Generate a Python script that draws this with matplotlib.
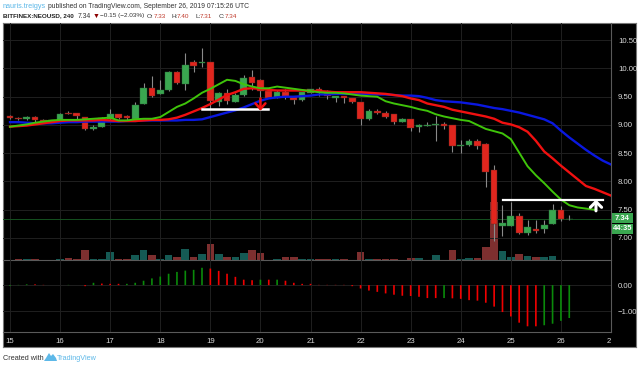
import matplotlib
matplotlib.use('Agg')
import matplotlib.pyplot as plt
from matplotlib.patches import Rectangle, Polygon

W, H = 640, 367

# свечи, 4 часа
opens = [9.16, 9.13, 9.10, 9.15, 9.08, 9.05, 9.08, 9.22, 9.21, 9.14, 8.92, 8.97, 9.11, 9.19, 9.16, 9.10, 9.38,
         9.65, 9.55, 9.62, 9.94, 9.73, 10.11, 10.09, 10.11, 9.41, 9.56, 9.41, 9.53, 9.85, 9.80, 9.61, 9.48, 9.58,
         9.49, 9.44, 9.57, 9.63, 9.61, 9.48, 9.51, 9.47, 9.41, 9.10, 9.24, 9.22, 9.19, 9.06, 9.10, 8.97, 8.99,
         9.00, 9.02, 9.00, 8.62, 8.64, 8.72, 8.67, 8.20, 7.22, 7.22, 7.38, 7.08, 7.16, 7.16, 7.25, 7.50, 7.33]
highs = [9.18, 9.14, 9.16, 9.16, 9.10, 9.09, 9.22, 9.24, 9.22, 9.15, 9.00, 9.15, 9.29, 9.20, 9.18, 9.40, 9.75,
         9.87, 9.80, 9.96, 9.96, 10.27, 10.15, 10.37, 10.12, 9.59, 9.63, 9.56, 9.88, 9.97, 9.81, 9.63, 9.62, 9.64,
         9.50, 9.59, 9.64, 9.67, 9.62, 9.52, 9.52, 9.48, 9.41, 9.28, 9.28, 9.25, 9.20, 9.12, 9.11, 9.02, 9.05,
         9.16, 9.05, 9.00, 8.73, 8.76, 8.75, 8.68, 8.30, 7.58, 7.64, 7.44, 7.32, 7.32, 7.32, 7.61, 7.57, 7.40]
lows = [9.11, 9.09, 9.09, 9.06, 9.03, 9.04, 9.07, 9.20, 9.10, 8.91, 8.91, 8.96, 9.09, 9.10, 9.09, 9.09, 9.37,
        9.50, 9.54, 9.61, 9.72, 9.62, 9.94, 10.02, 9.29, 9.34, 9.37, 9.40, 9.52, 9.62, 9.28, 9.47, 9.47, 9.46,
        9.37, 9.42, 9.56, 9.52, 9.46, 9.40, 9.39, 9.39, 9.00, 9.09, 9.19, 9.13, 9.02, 9.05, 8.90, 8.88, 8.98,
        8.72, 8.93, 8.52, 8.51, 8.63, 8.57, 7.90, 6.95, 7.03, 7.21, 7.07, 7.05, 7.08, 7.09, 7.24, 7.30, 7.31]
closes = [9.12, 9.10, 9.15, 9.08, 9.04, 9.08, 9.19, 9.20, 9.16, 8.92, 8.96, 9.13, 9.19, 9.12, 9.12, 9.35, 9.65,
          9.52, 9.62, 9.94, 9.74, 10.07, 10.05, 10.12, 9.43, 9.56, 9.42, 9.53, 9.84, 9.75, 9.60, 9.48, 9.58, 9.50,
          9.44, 9.58, 9.63, 9.59, 9.52, 9.51, 9.47, 9.40, 9.11, 9.25, 9.21, 9.14, 9.06, 9.11, 8.94, 9.00, 9.00,
          9.02, 8.98, 8.63, 8.65, 8.72, 8.63, 8.16, 7.24, 7.27, 7.38, 7.09, 7.19, 7.12, 7.23, 7.50, 7.33, 7.34]

# скользящие средние (смещены вправо)
ma_green = [8.97, 8.99, 9.01, 9.04, 9.06, 9.08, 9.09, 9.09, 9.09, 9.10, 9.11, 9.12, 9.13, 9.08, 9.08, 9.10, 9.11,
            9.11, 9.14, 9.23, 9.32, 9.38, 9.47, 9.57, 9.64, 9.72, 9.80, 9.78, 9.72, 9.68, 9.65, 9.65, 9.68, 9.66,
            9.64, 9.62, 9.60, 9.58, 9.57, 9.57, 9.56, 9.54, 9.52, 9.51, 9.50, 9.42, 9.38, 9.35, 9.32, 9.28, 9.25,
            9.19, 9.15, 9.12, 9.09, 9.07, 9.00, 8.93, 8.89, 8.85, 8.75, 8.51, 8.27, 8.11, 7.97, 7.82, 7.68, 7.58,
            7.54, 7.52, 7.50]
ma_red = [8.97, 8.98, 8.99, 9.01, 9.03, 9.05, 9.07, 9.08, 9.08, 9.08, 9.08, 9.09, 9.08, 9.07, 9.07, 9.07, 9.08,
          9.09, 9.09, 9.10, 9.13, 9.18, 9.24, 9.30, 9.37, 9.45, 9.53, 9.58, 9.64, 9.65, 9.64, 9.62, 9.61, 9.61,
          9.61, 9.61, 9.60, 9.60, 9.59, 9.58, 9.58, 9.58, 9.58, 9.57, 9.56, 9.55, 9.53, 9.51, 9.47, 9.44, 9.38,
          9.35, 9.32, 9.27, 9.24, 9.21, 9.18, 9.15, 9.11, 9.04, 9.01, 8.96, 8.88, 8.72, 8.53, 8.41, 8.28, 8.16,
          8.04, 7.92, 7.87, 7.81, 7.75]
ma_blue = [9.05, 9.05, 9.04, 9.03, 9.03, 9.03, 9.04, 9.05, 9.05, 9.06, 9.06, 9.06, 9.06, 9.06, 9.07, 9.07, 9.08,
           9.08, 9.08, 9.08, 9.08, 9.09, 9.09, 9.10, 9.14, 9.18, 9.22, 9.26, 9.31, 9.37, 9.43, 9.47, 9.49, 9.50,
           9.50, 9.51, 9.52, 9.54, 9.54, 9.55, 9.55, 9.55, 9.55, 9.55, 9.54, 9.54, 9.53, 9.52, 9.52, 9.51, 9.48,
           9.44, 9.42, 9.41, 9.40, 9.38, 9.36, 9.33, 9.30, 9.28, 9.25, 9.22, 9.18, 9.14, 9.10, 9.03, 8.90, 8.78,
           8.67, 8.56, 8.46, 8.37, 8.30]

# объём в условных единицах, 1 = неполный пиксель
volume = [1, 4, 2, 2, 1, 1, 3, 6, 2, 30, 4, 2, 25, 4, 4, 16, 30, 16, 4, 14, 8, 34, 8, 17, 47, 19, 8, 10, 22, 31,
          20, 1, 4, 8, 10, 3, 4, 3, 2, 2, 4, 1, 25, 2, 2, 2, 2, 1, 7, 5, 1, 16, 1, 29, 4, 6, 6, 39, 175, 27, 10,
          19, 13, 9, 8, 11, 1, 1]
vol_up = [0, 0, 1, 0, 0, 1, 1, 0, 0, 0, 1, 1, 1, 0, 0, 1, 1, 0, 1, 1, 0, 1, 0, 1, 0, 1, 0, 1, 1, 0, 0, 0, 1, 0,
          0, 1, 1, 0, 0, 1, 0, 0, 0, 1, 0, 0, 0, 1, 0, 1, 1, 1, 0, 0, 1, 1, 0, 0, 0, 1, 1, 0, 1, 0, 1, 1, 0, 1]

macd = [-0.03, 0.01, 0.03, 0.03, 0.01, 0.0, 0.0, 0.01, 0.0, -0.04, 0.09, 0.06, 0.05, 0.05, 0.05, 0.09, 0.17, 0.26,
        0.33, 0.44, 0.51, 0.56, 0.59, 0.67, 0.64, 0.55, 0.44, 0.32, 0.21, 0.19, 0.21, 0.21, 0.21, 0.17, 0.09, 0.05,
        0.05, 0.01, 0.01, 0.01, 0.01, -0.04, -0.13, -0.21, -0.26, -0.32, -0.37, -0.41, -0.42, -0.45, -0.50, -0.50,
        -0.50, -0.51, -0.53, -0.58, -0.60, -0.68, -0.83, -1.04, -1.21, -1.45, -1.59, -1.59, -1.55, -1.49, -1.38, -1.27]
macd_up = [1, 1, 1, 0, 0, 0, 1, 1, 0, 0, 1, 0, 0, 0, 1, 1, 1, 1, 1, 1, 1, 1, 1, 1, 0, 0, 0, 0, 0, 0, 1, 0, 1, 0,
           0, 0, 0, 0, 0, 0, 0, 0, 0, 0, 0, 0, 0, 0, 0, 0, 0, 0, 1, 0, 0, 0, 0, 0, 0, 0, 0, 0, 0, 0, 1, 1, 1, 1]

day_ticks = list(range(0, 73, 6))
day_labels = ['15', '16', '17', '18', '19', '20', '21', '22', '23', '24', '25', '26', '27']
price_ticks = [7.0, 7.5, 8.0, 8.5, 9.0, 9.5, 10.0, 10.5]
macd_ticks = [0.0, -1.0]
last_price = 7.34

GREEN, RED = '#3aa650', '#e0261e'
GRID, EDGE, LABEL = '#1f1f1f', '#5a5a5a', '#d8d8d8'
SANS = ['Liberation Sans', 'DejaVu Sans']
plt.rcParams['font.family'] = SANS


def rect(x0, y0, x1, y1):
    return [x0 / W, 1 - y1 / H, (x1 - x0) / W, (y1 - y0) / H]


fig = plt.figure(figsize=(6.4, 3.67), dpi=100, facecolor='white')

base = fig.add_axes(rect(3, 23, 636, 347), facecolor='black')
base.set_xticks([])
base.set_yticks([])
for s in base.spines.values():
    s.set_color('#777777')
    s.set_linewidth(0.8)

vol = fig.add_axes(rect(3, 23, 611, 260), facecolor='none')
ax = fig.add_axes(rect(3, 23, 611, 260), facecolor='none', sharex=vol)
mc = fig.add_axes(rect(3, 260, 611, 332), facecolor='none', sharex=vol)

# объём
n = list(range(len(closes)))
vol.bar(n, volume, width=0.92, color=['#155a54' if u else '#7d2f2f' for u in vol_up])
vol.set_ylim(0, 711)
vol.axis('off')

# свечи
ax.vlines(n, lows, highs, color='#8a8a8a', linewidth=0.8, zorder=3)
for i in n:
    up = closes[i] > opens[i]
    ax.bar(i, abs(closes[i] - opens[i]), bottom=min(opens[i], closes[i]), width=0.8,
           color=GREEN if up else RED, edgecolor='#5a2a22' if not up else '#2c6b3a', linewidth=0.3, zorder=4)

ax.plot(range(len(ma_blue)), ma_blue, color='#0a18e0', linewidth=1.7, zorder=5)
ax.plot(range(len(ma_red)), ma_red, color='#f01010', linewidth=1.7, zorder=6)
ax.plot(range(len(ma_green)), ma_green, color='#3fc40a', linewidth=1.4, zorder=7)
ax.axhline(last_price, color='#14501f', linewidth=0.7, zorder=2)

# рисунки автора
ax.plot([23, 30.9], [9.29, 9.29], color='white', linewidth=1.8, zorder=8)
ax.plot([59.1, 71], [7.67, 7.67], color='white', linewidth=1.6, zorder=8)
ax.annotate('', xy=(30, 9.25), xytext=(30, 9.47), zorder=9,
            arrowprops=dict(arrowstyle='->,head_length=0.45,head_width=0.4', color='#f01010', lw=1.8,
                            shrinkA=0, shrinkB=0, mutation_scale=9))
ax.annotate('', xy=(70.2, 7.68), xytext=(70.2, 7.48), zorder=9,
            arrowprops=dict(arrowstyle='->,head_length=0.45,head_width=0.45', color='white', lw=2.2,
                            shrinkA=0, shrinkB=0, mutation_scale=9))

ax.set_xlim(-0.84, 71.9)
ax.set_ylim(6.61, 10.805)
ax.yaxis.tick_right()
ax.set_yticks(price_ticks)
ax.set_yticklabels(['%.2f' % v for v in price_ticks])
ax.tick_params(axis='y', length=0, pad=5, labelsize=5.6, labelcolor=LABEL)
ax.tick_params(axis='x', length=0, labelbottom=False)
ax.set_xticks(day_ticks)
ax.grid(True, color=GRID, linewidth=0.7)
ax.set_axisbelow(True)
for name, s in ax.spines.items():
    s.set_visible(name in ('bottom', 'right'))
    s.set_color(EDGE)
    s.set_linewidth(0.8)

# MACD
macd_bars = mc.bar(n, macd, width=0.2, color=['#0a8a0a' if u else '#f00000' for u in macd_up])
for b in macd_bars:
    b.set_snap(False)
mc.set_ylim(-1.81, 0.97)
mc.yaxis.tick_right()
mc.set_yticks(macd_ticks)
mc.set_yticklabels(['0.00', '\u22121.00'])
mc.set_xticks(day_ticks)
mc.set_xticklabels(day_labels)
mc.tick_params(axis='y', length=0, pad=5, labelsize=5.6, labelcolor=LABEL)
mc.tick_params(axis='x', length=0, pad=4, labelsize=5.6, labelcolor=LABEL)
mc.grid(True, color=GRID, linewidth=0.7)
mc.set_axisbelow(True)
for name, s in mc.spines.items():
    s.set_visible(name in ('bottom', 'right'))
    s.set_color(EDGE)
    s.set_linewidth(0.8)

# подпись 27 обрезана правой панелью
clip = Rectangle((3 / W, 0), 608 / W, 1, transform=fig.transFigure)
for t in mc.get_xticklabels():
    t.set_clip_path(clip)
    t.set_clip_on(True)

# слой в пикселях для текста вокруг графика
top = fig.add_axes([0, 0, 1, 1], facecolor='none')
top.set_xlim(0, W)
top.set_ylim(H, 0)
top.axis('off')


def label(x, y, s, color='#333333', size=4.9, weight='normal', ha='left'):
    top.text(x, y, s, color=color, fontsize=size, fontweight=weight, ha=ha, va='center')


label(3, 6.5, 'nauris.treigys', color='#5db8e8', size=5.2)
label(48, 6.5, 'published on TradingView.com, September 26, 2019 07:15:26 UTC', size=4.85)
label(3, 16, 'BITFINEX:NEOUSD, 240', color='#222222', size=4.5, weight='bold')
label(78, 16, '7.34')
label(93, 16, '\u25bc', color='#8b0000', size=5)
label(100.5, 16, '\u22120.15 (\u22122.03%)', size=4.6)
for x, s in [(146.5, 'O:'), (171, 'H:'), (195.5, 'L:'), (219, 'C:')]:
    label(x, 16, s, size=4.6)
for x, s in [(154, '7.33'), (177, '7.40'), (200, '7.31'), (225, '7.34')]:
    label(x, 16, s, color='#c0392b', size=4.6)

# плашки цены и таймера
for y0, y1, s in [(213, 223, '7.34'), (223.5, 233.5, '44:35')]:
    top.add_patch(Rectangle((612, y0), 21, y1 - y0, facecolor=GREEN, edgecolor='none'))
    top.text(622.5, (y0 + y1) / 2, s, color='white', fontsize=5.4, fontweight='bold', ha='center', va='center')

label(3, 358, 'Created with', size=5.2)
top.add_patch(Polygon([(44, 361), (46, 358), (49, 353), (51, 356), (53, 354), (56, 358), (57, 361)],
                      facecolor='#5db8e8', edgecolor='none'))
label(57, 358, 'TradingView', color='#5db8e8', size=5.2)

fig.savefig('out.png', dpi=100)
